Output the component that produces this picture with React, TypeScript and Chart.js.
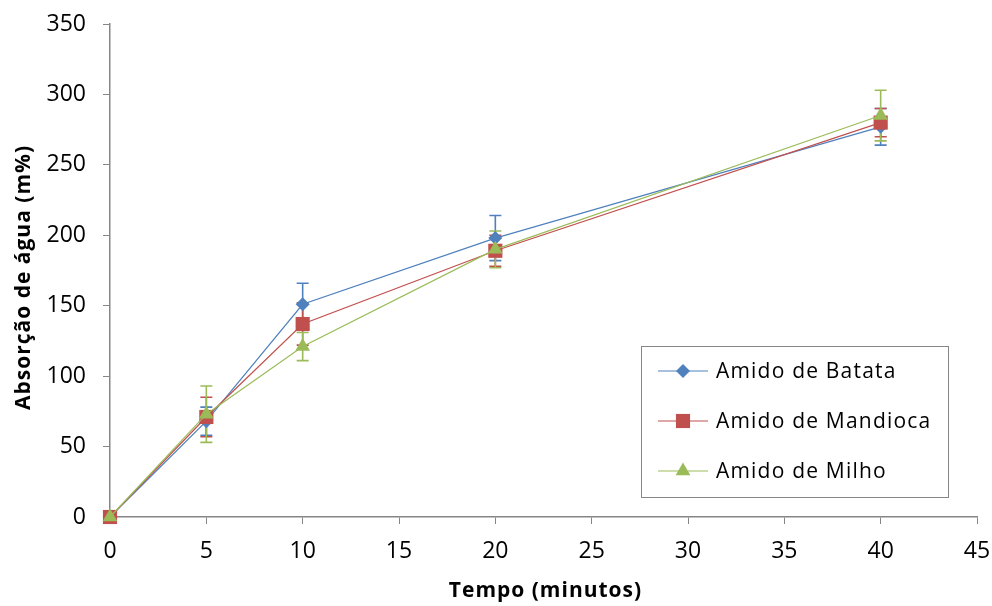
import React, { useEffect, useRef } from "react";
import { Chart, registerables } from "chart.js";

Chart.register(...registerables);

// Tempo (minutos)
const tempos = [0, 5, 10, 20, 40];

// Absorção de água (m%) por tipo de amido
const batata = [0, 68, 151, 198, 277];
const mandioca = [0, 71, 137, 189, 280];
const milho = [0, 73, 121, 190, 285];

// Desvios (barras de erro)
const batataErro = [0, 10, 15, 16, 13];
const mandiocaErro = [0, 14, 15, 11, 10];
const milhoErro = [0, 20, 10, 13, 18];

const seriesNames = ["Amido de Batata", "Amido de Mandioca", "Amido de Milho"];
const seriesColors = ["#4F81BD", "#C0504D", "#9BBB59"];
const seriesStyles = ["rectRot", "rect", "triangle"];
const seriesRadius = [7, 10, 8.5];

const yTicks = [0, 50, 100, 150, 200, 250, 300, 350];
const xTicks = [0, 5, 10, 15, 20, 25, 30, 35, 40, 45];

const xTitle = "Tempo (minutos)";
const yTitle = "Absorção de água (m%)";

const FONT = "'Open Sans', sans-serif";
const AXIS_GRAY = "#868686";

const errorBarsPlugin = {
  id: "errorBars",
  beforeDatasetsDraw(chart: any) {
    const { ctx } = chart;
    const xs = chart.scales.x;
    const ys = chart.scales.y;
    chart.data.datasets.forEach((ds: any) => {
      const errs: number[] = ds.errors || [];
      ctx.save();
      ctx.strokeStyle = ds.borderColor;
      ctx.lineWidth = 1.6;
      ds.data.forEach((p: any, i: number) => {
        const e = errs[i];
        if (!e) return;
        const px = xs.getPixelForValue(p.x);
        const top = ys.getPixelForValue(p.y + e);
        const bot = ys.getPixelForValue(p.y - e);
        const cap = 6;
        ctx.beginPath();
        ctx.moveTo(px, top);
        ctx.lineTo(px, bot);
        ctx.moveTo(px - cap, top);
        ctx.lineTo(px + cap, top);
        ctx.moveTo(px - cap, bot);
        ctx.lineTo(px + cap, bot);
        ctx.stroke();
      });
      ctx.restore();
    });
  },
};

function drawMarker(ctx: CanvasRenderingContext2D, style: string, r: number, x: number, y: number) {
  ctx.beginPath();
  if (style === "rectRot") {
    ctx.moveTo(x - r, y);
    ctx.lineTo(x, y - r);
    ctx.lineTo(x + r, y);
    ctx.lineTo(x, y + r);
  } else if (style === "rect") {
    const s = r * Math.SQRT1_2;
    ctx.rect(x - s, y - s, 2 * s, 2 * s);
  } else {
    ctx.moveTo(x, y - r);
    ctx.lineTo(x + (r * Math.sqrt(3)) / 2, y + r / 2);
    ctx.lineTo(x - (r * Math.sqrt(3)) / 2, y + r / 2);
  }
  ctx.closePath();
  ctx.fill();
}

// Axis titles, drawn with a little extra letter spacing
const axisTitlesPlugin = {
  id: "axisTitles",
  afterDraw(chart: any) {
    const { ctx, chartArea } = chart;
    ctx.save();
    (ctx as any).letterSpacing = "1px";
    ctx.fillStyle = "#000";
    ctx.font = `bold 21px ${FONT}`;
    ctx.textAlign = "center";
    ctx.textBaseline = "middle";
    ctx.fillText(xTitle, (chartArea.left + chartArea.right) / 2 + 2, 591);
    ctx.translate(24, (chartArea.top + chartArea.bottom) / 2 + 7);
    ctx.rotate(-Math.PI / 2);
    ctx.fillText(yTitle, 0, 0);
    ctx.restore();
  },
};

// Legend framed inside the plot, lower right
const boxLegendPlugin = {
  id: "boxLegend",
  afterDraw(chart: any) {
    const { ctx } = chart;
    const left = 641.5;
    const top = 346.5;
    const w = 307;
    const h = 151;
    ctx.save();
    ctx.fillStyle = "#ffffff";
    ctx.fillRect(left, top, w, h);
    ctx.strokeStyle = AXIS_GRAY;
    ctx.lineWidth = 1;
    ctx.strokeRect(left, top, w, h);
    seriesNames.forEach((name, i) => {
      const cy = 371 + i * 50;
      ctx.strokeStyle = seriesColors[i];
      ctx.lineWidth = 1.2;
      ctx.beginPath();
      ctx.moveTo(658, cy);
      ctx.lineTo(708, cy);
      ctx.stroke();
      ctx.fillStyle = seriesColors[i];
      drawMarker(ctx, seriesStyles[i], seriesRadius[i], 683, cy);
      ctx.fillStyle = "#000000";
      (ctx as any).letterSpacing = "1.2px";
      ctx.font = `21px ${FONT}`;
      ctx.textBaseline = "middle";
      ctx.textAlign = "left";
      ctx.fillText(name, 716, cy + 1);
      (ctx as any).letterSpacing = "0px";
    });
    ctx.restore();
  },
};

export default function App() {
  const canvasRef = useRef<HTMLCanvasElement | null>(null);

  useEffect(() => {
    document.body.style.margin = "0";
    const values = [batata, mandioca, milho];
    const errors = [batataErro, mandiocaErro, milhoErro];
    const chart = new Chart(canvasRef.current as HTMLCanvasElement, {
      type: "line",
      data: {
        datasets: values.map((vals, i) => ({
          label: seriesNames[i],
          data: tempos.map((t, j) => ({ x: t, y: vals[j] })),
          errors: errors[i],
          borderColor: seriesColors[i],
          backgroundColor: seriesColors[i],
          borderWidth: 1.2,
          pointStyle: seriesStyles[i],
          pointRadius: seriesRadius[i],
          pointBorderWidth: 0,
          pointBackgroundColor: seriesColors[i],
          pointBorderColor: seriesColors[i],
          tension: 0,
          clip: false,
          order: 3 - i,
        })) as any,
      },
      options: {
        animation: false,
        responsive: false,
        layout: { padding: { top: 24, right: 15, left: 0, bottom: 0 } },
        plugins: {
          legend: { display: false },
          tooltip: { enabled: false },
        },
        scales: {
          x: {
            type: "linear",
            min: 0,
            max: 45,
            afterBuildTicks: (s: any) => {
              s.ticks = xTicks.map((v) => ({ value: v }));
            },
            afterFit: (s: any) => {
              s.height = 89;
              s.paddingLeft = 0;
              s.paddingRight = 0;
              s.paddingTop = 0;
              s.paddingBottom = 0;
            },
            grid: {
              display: true,
              drawOnChartArea: false,
              drawTicks: true,
              tickLength: 7,
              color: AXIS_GRAY,
            },
            border: { color: AXIS_GRAY, width: 1.5 },
            ticks: {
              color: "#000",
              font: { family: FONT, size: 23 },
              padding: 14,
              maxRotation: 0,
            },
          },
          y: {
            type: "linear",
            min: 0,
            max: 350,
            afterBuildTicks: (s: any) => {
              s.ticks = yTicks.map((v) => ({ value: v }));
            },
            afterFit: (s: any) => {
              s.width = 110;
              s.paddingLeft = 0;
              s.paddingRight = 0;
              s.paddingTop = 0;
              s.paddingBottom = 0;
            },
            grid: {
              display: true,
              drawOnChartArea: false,
              drawTicks: true,
              tickLength: 7,
              color: AXIS_GRAY,
            },
            border: { color: AXIS_GRAY, width: 1.5 },
            ticks: {
              color: "#000",
              font: { family: FONT, size: 23 },
              padding: 17,
            },
          },
        },
      } as any,
      plugins: [errorBarsPlugin, boxLegendPlugin, axisTitlesPlugin],
    });
    return () => chart.destroy();
  }, []);

  return (
    <div style={{ position: "absolute", left: 0, top: 0, width: 992, height: 606, background: "#fff" }}>
      <canvas ref={canvasRef} width={992} height={606} style={{ display: "block" }} />
    </div>
  );
}
